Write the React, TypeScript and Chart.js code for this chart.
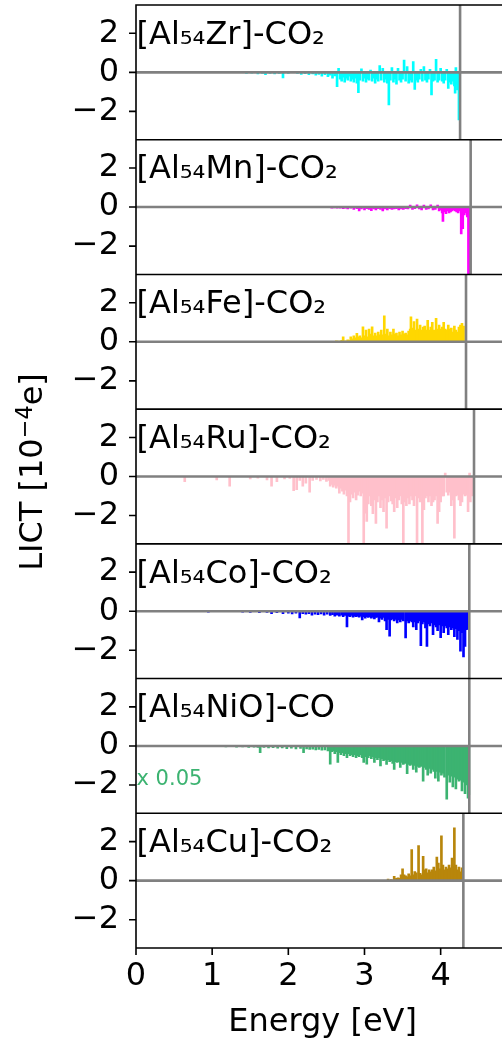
import { useEffect, useRef } from "react";
import { Chart, registerables } from "chart.js";

Chart.register(...registerables);

const FONT = "'DejaVu Sans', 'Liberation Sans', sans-serif";

const panelTitles = [
  "[Al₅₄Zr]-CO₂",
  "[Al₅₄Mn]-CO₂",
  "[Al₅₄Fe]-CO₂",
  "[Al₅₄Ru]-CO₂",
  "[Al₅₄Co]-CO₂",
  "[Al₅₄NiO]-CO",
  "[Al₅₄Cu]-CO₂",
];
const panelColors = ["#00FFFF", "#FF00FF", "#FFD700", "#FFC0CB", "#0000FF", "#3CB371", "#B8860B"];
const edgeEnergies = [4.255, 4.394, 4.333, 4.438, 4.376, 4.376, 4.298];
const xTickValues = [0, 1, 2, 3, 4];
const yTickValues = [-2, 0, 2];
const xMin = 0;
const xMax = 4.9;
const yMin = -3.45;
const yMax = 3.45;
const scaleNote = "x 0.05";
const scaleNotePanel = 5;
const yAxisMain = "LICT [10";
const yAxisSup = "−4";
const yAxisEnd = "e]";
const xAxisTitle = "Energy [eV]";

const zrBars: [number, number][] = [
  [1.45, -0.05], [1.52, -0.04], [1.6, -0.08], [1.66, -0.06], [1.7, -0.12], [1.76, -0.06], [1.82, -0.08], [1.88, -0.05],
  [1.93, -0.28], [2.0, -0.05], [2.07, 0.05], [2.12, -0.06], [2.17, -0.1], [2.22, -0.07], [2.27, -0.12], [2.32, -0.08],
  [2.36, -0.15], [2.4, -0.1], [2.44, -0.2], [2.48, -0.12], [2.52, -0.22], [2.55, -0.15], [2.58, -0.3], [2.61, -0.18],
  [2.64, -0.73], [2.66, 0.2], [2.68, -0.35], [2.7, -0.45], [2.72, -0.25], [2.74, -0.5], [2.76, -0.3], [2.78, -0.4],
  [2.8, -0.2], [2.82, -0.45], [2.84, -0.35], [2.86, -0.5], [2.88, -0.3], [2.9, -0.55], [2.92, -1.04], [2.94, -0.4],
  [2.96, 0.18], [2.98, -0.45], [3.0, -0.3], [3.02, -0.5], [3.04, -0.35], [3.06, -0.4], [3.08, 0.12], [3.1, -0.45],
  [3.12, -0.3], [3.14, -0.55], [3.16, -0.35], [3.18, -0.45], [3.2, 0.35], [3.22, -0.4], [3.24, 0.2], [3.26, -0.5],
  [3.28, -0.35], [3.3, -0.55], [3.32, -1.67], [3.34, -0.4], [3.36, 0.25], [3.38, -0.5], [3.4, -0.35], [3.42, -0.6],
  [3.44, 0.2], [3.46, -0.4], [3.48, -0.5], [3.5, -0.35], [3.52, 0.63], [3.54, -0.45], [3.56, 0.3], [3.58, -0.55],
  [3.6, -0.4], [3.62, -0.5], [3.64, 0.55], [3.66, -0.87], [3.68, -0.4], [3.7, -0.5], [3.72, -0.35], [3.74, 0.15],
  [3.76, -0.45], [3.78, 0.3], [3.8, -0.4], [3.82, -0.5], [3.84, -0.35], [3.86, 0.15], [3.88, -1.16], [3.9, -0.45],
  [3.92, -0.4], [3.94, 0.67], [3.96, -0.5], [3.98, -0.4], [4.0, 0.2], [4.02, -0.45], [4.04, -0.55], [4.06, -0.4],
  [4.08, 0.15], [4.1, -0.82], [4.12, -0.5], [4.14, -0.6], [4.16, -0.45], [4.18, -0.7], [4.19, -1.07], [4.2, 0.25],
  [4.21, -0.6], [4.22, -0.9], [4.23, -0.75], [4.24, -2.44], [4.25, -1.5],
];

const mnBars: [number, number][] = [
  [2.57, -0.05], [2.6, -0.04], [2.64, -0.06], [2.68, -0.05], [2.72, -0.08], [2.75, -0.05], [2.78, -0.1], [2.82, -0.06],
  [2.86, -0.12], [2.9, -0.08], [2.93, -0.2], [2.96, -0.1], [3.0, -0.15], [3.03, -0.08], [3.06, -0.12], [3.09, -0.18],
  [3.12, -0.1], [3.15, -0.15], [3.18, -0.08], [3.21, -0.12], [3.24, -0.2], [3.27, -0.1], [3.3, -0.15], [3.33, -0.08],
  [3.36, -0.12], [3.39, -0.1], [3.42, -0.08], [3.45, -0.15], [3.48, -0.1], [3.51, -0.12], [3.54, -0.08], [3.57, -0.1],
  [3.6, 0.1], [3.63, -0.12], [3.66, -0.08], [3.69, 0.12], [3.72, -0.1], [3.75, -0.15], [3.78, 0.1], [3.81, -0.12],
  [3.84, -0.1], [3.87, 0.12], [3.9, -0.15], [3.93, -0.12], [3.96, 0.1], [3.98, -0.2], [4.0, -0.15], [4.02, -0.3],
  [4.03, -0.73], [4.05, -0.25], [4.07, -0.34], [4.09, -0.2], [4.11, -0.3], [4.13, -0.25], [4.15, -0.2], [4.17, -0.15],
  [4.19, -0.2], [4.21, -0.25], [4.23, -0.3], [4.25, -0.2], [4.27, -1.37], [4.29, -1.1], [4.31, -0.4], [4.33, -0.3],
  [4.35, -0.5], [4.365, -3.5], [4.378, -3.5],
];

const feBars: [number, number][] = [
  [2.63, 0.05], [2.66, 0.03], [2.7, 0.08], [2.72, 0.26], [2.75, 0.05], [2.78, 0.1], [2.8, 0.08], [2.82, 0.25],
  [2.84, 0.15], [2.86, 0.3], [2.88, 0.2], [2.9, 0.43], [2.92, 0.25], [2.94, 0.3], [2.96, 0.2], [2.98, 0.77],
  [3.0, 0.3], [3.02, 0.6], [3.04, 0.25], [3.06, 0.65], [3.08, 0.4], [3.1, 0.77], [3.12, 0.3], [3.14, 0.45],
  [3.16, 0.3], [3.18, 0.5], [3.2, 0.35], [3.22, 0.6], [3.24, 0.35], [3.26, 1.33], [3.28, 0.4], [3.3, 0.65],
  [3.32, 0.3], [3.34, 0.5], [3.36, 0.35], [3.38, 0.65], [3.4, 0.4], [3.42, 0.45], [3.44, 0.3], [3.46, 0.5],
  [3.48, 0.35], [3.5, 0.55], [3.52, 0.4], [3.54, 0.45], [3.56, 0.35], [3.58, 0.55], [3.6, 0.65], [3.61, 1.28],
  [3.63, 0.7], [3.65, 1.03], [3.67, 0.6], [3.69, 1.16], [3.71, 0.65], [3.73, 0.85], [3.75, 0.6], [3.77, 0.75],
  [3.79, 0.8], [3.81, 0.6], [3.83, 1.1], [3.85, 0.6], [3.87, 0.75], [3.89, 1.0], [3.91, 0.6], [3.94, 1.2],
  [3.96, 0.65], [3.98, 0.85], [4.0, 0.65], [4.02, 0.75], [4.04, 1.0], [4.06, 0.65], [4.08, 0.6], [4.1, 0.85],
  [4.12, 0.65], [4.14, 0.7], [4.16, 0.5], [4.18, 0.8], [4.2, 0.6], [4.22, 0.5], [4.24, 0.75], [4.26, 0.85],
  [4.28, 0.95], [4.3, 0.8],
];

const ruBars: [number, number][] = [
  [0.64, -0.26], [1.06, -0.17], [1.23, -0.5], [1.5, -0.12], [1.6, -0.08], [1.72, -0.17], [1.78, -0.5], [1.85, -0.26],
  [1.95, -0.12], [2.02, -0.1], [2.07, -0.73], [2.11, -0.68], [2.15, -0.2], [2.19, -0.5], [2.23, -0.34], [2.28, -0.8],
  [2.32, -0.2], [2.37, -0.15], [2.42, -0.22], [2.46, -0.15], [2.5, -0.25], [2.53, -0.2],
  [2.55, -0.5], [2.57, -0.4], [2.59, -0.55], [2.61, -0.45], [2.63, -0.6], [2.65, -0.5], [2.67, -0.85], [2.69, -0.6],
  [2.71, -0.75], [2.73, -0.9], [2.75, -0.7], [2.77, -1.0], [2.79, -3.5], [2.81, -1.3], [2.83, -0.9], [2.85, -1.1],
  [2.87, -0.8], [2.89, -1.2], [2.91, -0.95], [2.93, -0.75], [2.95, -1.0], [2.97, -0.85], [2.99, -3.5], [3.01, -1.88],
  [3.03, -2.3], [3.05, -1.4], [3.07, -1.0], [3.09, -1.5], [3.11, -1.9], [3.13, -1.2], [3.15, -2.4], [3.17, -1.3],
  [3.19, -1.0], [3.21, -1.6], [3.23, -1.2], [3.25, -1.8], [3.27, -1.1], [3.29, -2.65], [3.31, -1.3], [3.33, -1.0],
  [3.35, -1.25], [3.37, -1.4], [3.39, -1.8], [3.41, -1.1], [3.43, -1.6], [3.45, -1.2], [3.47, -1.0], [3.49, -1.4],
  [3.51, -3.5], [3.53, -1.3], [3.55, -1.5], [3.57, -1.1], [3.59, -1.4], [3.61, -1.0], [3.63, -1.2], [3.65, -1.5],
  [3.67, -1.0], [3.69, -3.5], [3.71, -1.1], [3.73, -1.3], [3.75, -1.0], [3.76, -3.5], [3.78, -1.7], [3.8, -1.1],
  [3.82, -1.0], [3.84, -1.3], [3.86, -1.0], [3.88, -1.5], [3.9, -1.3], [3.92, -1.2], [3.94, -1.0], [3.96, -2.4],
  [3.98, -1.8], [4.0, -1.3], [4.02, -1.0], [4.04, -1.0], [4.06, 0.17], [4.08, -0.8], [4.1, -0.95], [4.12, -0.8],
  [4.14, -1.5], [4.16, -1.2], [4.18, -3.16], [4.2, -1.0], [4.22, -0.95], [4.24, -1.2], [4.26, -1.5], [4.28, -1.3],
  [4.3, -0.9], [4.32, -1.0], [4.34, -0.95], [4.36, -1.8], [4.38, 0.17], [4.39, -1.3], [4.41, -1.0],
];

const coBars: [number, number][] = [
  [0.95, -0.05], [1.4, -0.05], [1.5, -0.06], [1.62, -0.08], [1.72, -0.06], [1.78, -0.12], [1.85, -0.08], [1.93, -0.12],
  [2.0, -0.1], [2.05, -0.14], [2.1, -0.1], [2.15, -0.34], [2.19, -0.12], [2.23, -0.15], [2.27, -0.12], [2.31, -0.2],
  [2.35, -0.15], [2.39, -0.18], [2.43, -0.14], [2.47, -0.2], [2.51, -0.15], [2.55, -0.22], [2.58, -0.18], [2.61, -0.25],
  [2.64, -0.2], [2.67, -0.25], [2.7, -0.2], [2.72, -0.28], [2.74, -0.22], [2.77, -0.8], [2.79, -0.25], [2.81, -0.28],
  [2.83, -0.22], [2.85, -0.3], [2.87, -0.25], [2.89, -0.28], [2.91, -0.25], [2.93, -0.3], [2.95, -0.25], [2.97, -0.45],
  [2.99, -0.28], [3.01, -0.35], [3.03, -0.28], [3.05, -0.32], [3.07, -0.28], [3.09, -0.35], [3.11, -0.3], [3.13, -0.4],
  [3.15, -0.32], [3.17, -0.3], [3.19, -0.55], [3.21, -0.35], [3.23, -0.42], [3.25, -0.32], [3.27, -0.5], [3.29, -0.94],
  [3.31, -0.42], [3.33, -1.28], [3.35, -0.45], [3.37, -0.4], [3.39, -0.5], [3.41, -0.42], [3.43, -0.6], [3.45, -0.45],
  [3.47, -0.55], [3.49, -0.42], [3.51, -0.5], [3.54, -1.37], [3.56, -0.5], [3.58, -0.6], [3.6, -0.48], [3.62, -0.55],
  [3.64, -0.8], [3.66, -0.55], [3.68, -0.95], [3.7, -0.6], [3.72, -0.5], [3.74, -1.76], [3.76, -0.65], [3.78, -0.55],
  [3.8, -0.85], [3.82, -1.8], [3.84, -0.65], [3.86, -0.75], [3.88, -0.6], [3.9, -1.2], [3.92, -0.7], [3.94, -0.8],
  [3.96, -1.0], [3.98, -0.7], [4.0, -1.35], [4.02, -0.75], [4.04, -1.1], [4.06, -0.75], [4.08, -0.85], [4.1, -1.2],
  [4.12, -0.8], [4.14, -0.95], [4.16, -0.85], [4.18, -1.3], [4.2, -0.9], [4.22, -1.45], [4.24, -1.0], [4.26, -2.05],
  [4.28, -1.1], [4.3, -2.34], [4.32, -1.8], [4.34, -0.95], [4.35, -0.9],
];

const nioBars: [number, number][] = [
  [1.1, -0.04], [1.18, -0.05], [1.25, -0.04], [1.32, -0.06], [1.4, -0.05], [1.48, -0.07], [1.55, -0.06], [1.6, -0.08],
  [1.63, -0.34], [1.68, -0.08], [1.74, -0.1], [1.8, -0.09], [1.86, -0.12], [1.92, -0.1], [1.98, -0.14], [2.04, -0.12],
  [2.1, -0.15], [2.16, -0.13], [2.2, -0.35], [2.24, -0.15], [2.28, -0.18], [2.32, -0.16], [2.36, -0.2], [2.4, -0.18],
  [2.44, -0.22], [2.48, -0.2], [2.52, -0.25], [2.55, -0.94], [2.57, -0.3], [2.59, -0.25], [2.61, -0.4], [2.63, -0.3],
  [2.65, -0.85], [2.67, -0.35], [2.69, -0.45], [2.71, -0.35], [2.73, -0.5], [2.75, -0.4], [2.77, -0.6], [2.79, -0.4],
  [2.81, -0.5], [2.83, -0.45], [2.85, -0.55], [2.87, -0.45], [2.89, -0.6], [2.91, -0.5], [2.93, -0.55], [2.95, -0.45],
  [2.97, -0.6], [2.99, -0.85], [3.01, -0.55], [3.03, -0.94], [3.05, -0.6], [3.07, -0.5], [3.09, -0.65], [3.11, -0.55],
  [3.13, -0.85], [3.15, -0.6], [3.17, -0.7], [3.19, -0.6], [3.21, -1.03], [3.23, -0.65], [3.25, -0.75], [3.27, -0.7],
  [3.29, -0.95], [3.31, -0.7], [3.33, -0.8], [3.35, -0.75], [3.37, -0.9], [3.39, -1.2], [3.41, -0.8], [3.43, -0.85],
  [3.45, -0.8], [3.47, -1.1], [3.49, -0.85], [3.51, -0.95], [3.53, -0.9], [3.56, -1.42], [3.58, -0.95], [3.6, -1.0],
  [3.62, -0.95], [3.64, -1.2], [3.66, -1.0], [3.68, -1.35], [3.7, -1.05], [3.72, -1.1], [3.74, -1.05], [3.77, -1.8],
  [3.79, -1.1], [3.81, -1.2], [3.83, -1.5], [3.85, -1.15], [3.87, -1.4], [3.89, -1.2], [3.91, -1.3], [3.93, -1.65],
  [3.95, -1.3], [3.97, -1.8], [3.99, -1.35], [4.01, -1.5], [4.03, -1.4], [4.05, -1.6], [4.08, -2.73], [4.1, -1.5],
  [4.12, -1.85], [4.14, -1.55], [4.16, -2.1], [4.18, -1.6], [4.2, -2.2], [4.22, -1.7], [4.24, -1.8], [4.26, -1.75],
  [4.28, -2.3], [4.3, -1.85], [4.32, -2.45], [4.34, -2.0], [4.36, -2.68], [4.37, -2.5],
];

const cuBars: [number, number][] = [
  [3.31, 0.08], [3.35, 0.05], [3.39, 0.22], [3.42, 0.12], [3.44, 0.15], [3.46, 0.12], [3.48, 0.3], [3.5, 0.6],
  [3.52, 0.3], [3.54, 0.25], [3.56, 0.2], [3.58, 0.35], [3.6, 0.25], [3.62, 1.59], [3.64, 0.3], [3.66, 0.47],
  [3.68, 0.4], [3.71, 1.8], [3.73, 0.38], [3.75, 0.3], [3.77, 1.25], [3.79, 0.55], [3.81, 0.6], [3.83, 0.4],
  [3.85, 0.55], [3.87, 0.45], [3.89, 0.55], [3.91, 0.7], [3.93, 0.5], [3.95, 1.21], [3.97, 0.9], [3.99, 0.6],
  [4.01, 2.3], [4.03, 0.8], [4.05, 0.55], [4.07, 0.7], [4.09, 0.6], [4.11, 0.8], [4.13, 0.65], [4.15, 1.16],
  [4.17, 0.75], [4.18, 2.7], [4.2, 0.8], [4.22, 0.55], [4.24, 0.7], [4.26, 0.45], [4.28, 0.65],
];

const panelBars = [zrBars, mnBars, feBars, ruBars, coBars, nioBars, cuBars];

const CANVAS_W = 520;
const CANVAS_H = 1039;
const TICK_LEN = 7;

export default function App() {
  const ref = useRef<HTMLCanvasElement>(null);

  useEffect(() => {
    const canvas = ref.current;
    if (!canvas) return;

    const tickFont = { family: FONT, size: 32 };

    const scales: any = {
      x: {
        type: "linear",
        position: "bottom",
        min: xMin,
        max: xMax,
        offset: false,
        afterBuildTicks: (s: any) => {
          s.ticks = xTickValues.map((v) => ({ value: v }));
        },
        afterFit: (s: any) => {
          s.height = 91;
          s.paddingLeft = 0;
          s.paddingRight = 0;
        },
        ticks: { font: tickFont, color: "#000", padding: 2, maxRotation: 0, autoSkip: false },
        grid: { offset: false, drawOnChartArea: false, drawTicks: true, tickLength: TICK_LEN, color: "rgba(0,0,0,0)", lineWidth: 1 },
        border: { display: false },
      },
    };
    for (let i = panelBars.length - 1; i >= 0; i--) {
      scales["y" + i] = {
        type: "linear",
        position: "left",
        stack: "panels",
        stackWeight: 1,
        min: yMin,
        max: yMax,
        afterBuildTicks: (s: any) => {
          s.ticks = yTickValues.map((v) => ({ value: v }));
        },
        afterFit: (s: any) => {
          s.width = 100;
          s.paddingTop = 0;
          s.paddingBottom = 0;
        },
        ticks: {
          font: tickFont,
          color: "#000",
          padding: 10,
          autoSkip: false,
          callback: (v: number) => (v < 0 ? "\u2212" + Math.abs(v) : String(v)),
        },
        grid: { drawOnChartArea: false, drawTicks: true, tickLength: TICK_LEN, color: "rgba(0,0,0,0)", lineWidth: 1 },
        border: { display: false },
      };
    }

    const clipPlugin = {
      id: "panelClip",
      beforeDatasetDraw(chart: any, args: any) {
        const ys = chart.scales["y" + args.index];
        const ctx = chart.ctx;
        ctx.save();
        ctx.beginPath();
        ctx.rect(chart.chartArea.left, ys.top, chart.chartArea.right - chart.chartArea.left, ys.bottom - ys.top);
        ctx.clip();
      },
      afterDatasetDraw(chart: any) {
        chart.ctx.restore();
      },
    };

    const decorPlugin = {
      id: "decor",
      afterDatasetsDraw(chart: any) {
        const ctx = chart.ctx;
        const area = chart.chartArea;
        const xs = chart.scales.x;
        ctx.save();
        // reference lines
        ctx.strokeStyle = "#808080";
        ctx.lineWidth = 2.6;
        for (let i = 0; i < panelBars.length; i++) {
          const ys = chart.scales["y" + i];
          const y0 = ys.getPixelForValue(0);
          ctx.beginPath();
          ctx.moveTo(area.left, y0);
          ctx.lineTo(area.right, y0);
          ctx.stroke();
          const xe = xs.getPixelForValue(edgeEnergies[i]);
          ctx.beginPath();
          ctx.moveTo(xe, ys.top);
          ctx.lineTo(xe, ys.bottom);
          ctx.stroke();
        }
        // spines and tick marks
        ctx.strokeStyle = "#000";
        ctx.lineWidth = 1.6;
        ctx.beginPath();
        ctx.moveTo(area.left, area.top);
        ctx.lineTo(area.left, area.bottom);
        ctx.moveTo(area.right, area.top);
        ctx.lineTo(area.right, area.bottom);
        for (let i = 0; i < panelBars.length; i++) {
          const ys = chart.scales["y" + i];
          ctx.moveTo(area.left - 0.8, ys.top);
          ctx.lineTo(area.right, ys.top);
          ctx.moveTo(area.left - 0.8, ys.bottom);
          ctx.lineTo(area.right, ys.bottom);
          for (const t of ys.ticks) {
            const ty = ys.getPixelForValue(t.value);
            ctx.moveTo(area.left - TICK_LEN, ty);
            ctx.lineTo(area.left, ty);
          }
        }
        for (const t of xs.ticks) {
          const tx = xs.getPixelForValue(t.value);
          ctx.moveTo(tx, area.bottom);
          ctx.lineTo(tx, area.bottom + TICK_LEN);
        }
        ctx.stroke();
        // panel titles
        ctx.fillStyle = "#000";
        ctx.textAlign = "left";
        ctx.textBaseline = "alphabetic";
        ctx.font = `32px ${FONT}`;
        for (let i = 0; i < panelTitles.length; i++) {
          const ys = chart.scales["y" + i];
          ctx.fillText(panelTitles[i], area.left + 0.5, ys.top + 38.7);
        }
        // scale note
        const ns = chart.scales["y" + scaleNotePanel];
        ctx.fillStyle = panelColors[scaleNotePanel];
        ctx.font = `21px ${FONT}`;
        ctx.fillText(scaleNote, area.left + 0.5, ns.top + 106.4);
        // x axis title
        ctx.fillStyle = "#000";
        ctx.font = `32px ${FONT}`;
        ctx.textAlign = "center";
        ctx.fillText(xAxisTitle, (area.left + area.right) / 2, 1030.7);
        // y axis title (rotated, with superscript)
        ctx.save();
        ctx.translate(41.7, 472);
        ctx.rotate(-Math.PI / 2);
        ctx.textAlign = "left";
        const big = `32px ${FONT}`;
        const small = `22.4px ${FONT}`;
        ctx.font = big;
        const w1 = ctx.measureText(yAxisMain).width;
        ctx.font = small;
        const w2 = ctx.measureText(yAxisSup).width;
        ctx.font = big;
        const w3 = ctx.measureText(yAxisEnd).width;
        const x0 = -(w1 + w2 + w3) / 2;
        ctx.font = big;
        ctx.fillText(yAxisMain, x0, 0);
        ctx.font = small;
        ctx.fillText(yAxisSup, x0 + w1, -10);
        ctx.font = big;
        ctx.fillText(yAxisEnd, x0 + w1 + w2, 0);
        ctx.restore();
        ctx.restore();
      },
    };

    const chart = new Chart(canvas, {
      type: "bar",
      data: {
        datasets: panelBars.map((bars, i) => ({
          type: "bar" as const,
          data: bars.map(([x, y]) => ({ x, y })),
          xAxisID: "x",
          yAxisID: "y" + i,
          backgroundColor: panelColors[i],
          borderWidth: 0,
          barThickness: 2,
          grouped: false,
        })),
      } as any,
      options: {
        responsive: false,
        maintainAspectRatio: false,
        devicePixelRatio: 1,
        animation: false,
        layout: { padding: { left: 36, top: 5, right: CANVAS_W - 509.2, bottom: 0 } },
        plugins: { legend: { display: false }, tooltip: { enabled: false } },
        scales,
      } as any,
      plugins: [clipPlugin, decorPlugin],
    });

    return () => chart.destroy();
  }, []);

  return (
    <div style={{ position: "absolute", left: 0, top: 0, width: 502, height: CANVAS_H, overflow: "hidden", background: "#fff" }}>
      <canvas ref={ref} width={CANVAS_W} height={CANVAS_H} style={{ width: CANVAS_W, height: CANVAS_H, display: "block" }} />
    </div>
  );
}
